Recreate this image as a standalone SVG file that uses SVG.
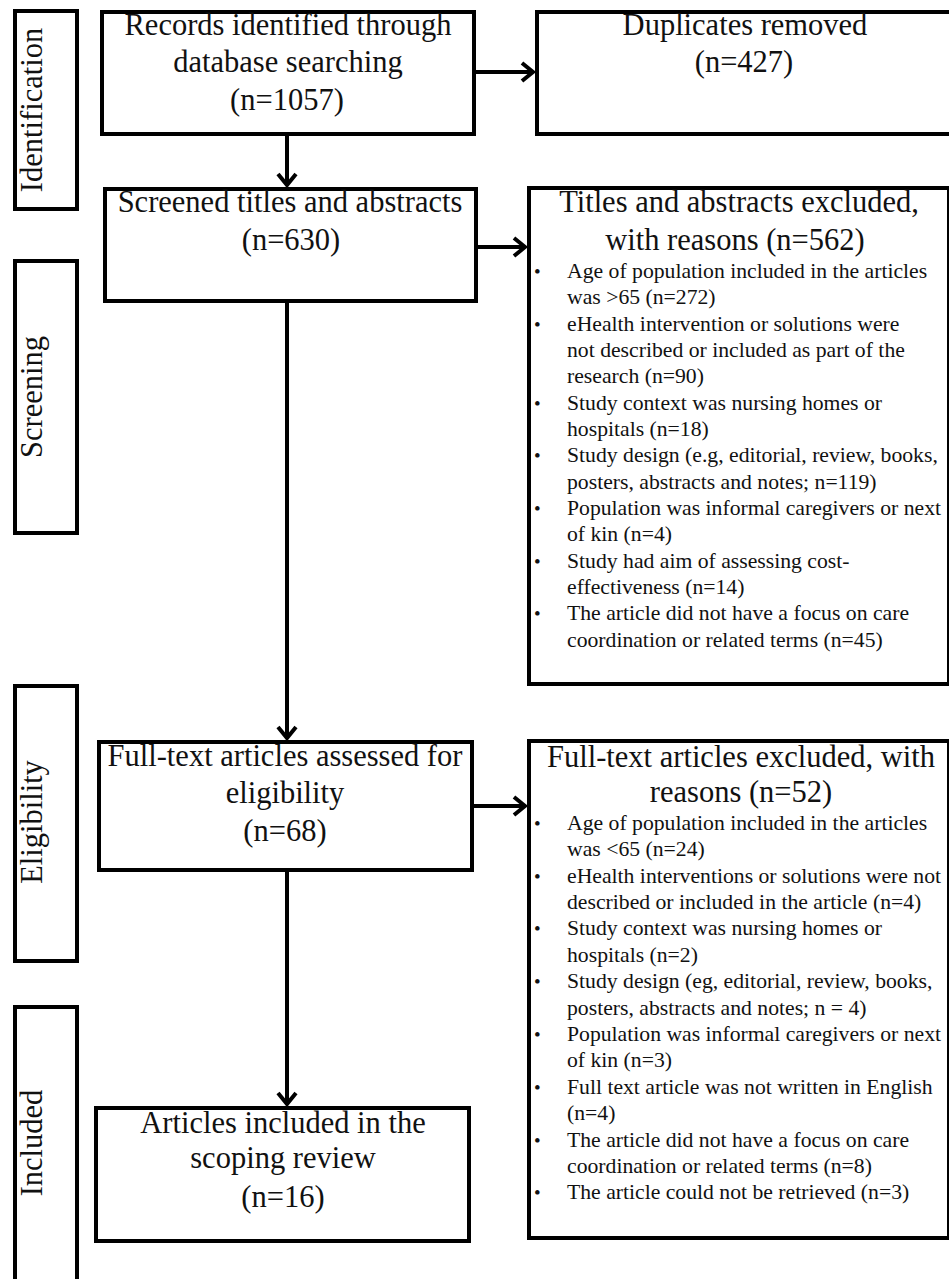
<svg xmlns="http://www.w3.org/2000/svg" width="949" height="1279" viewBox="0 0 949 1279">
<style>
  .box { fill: #ffffff; stroke: #000000; stroke-width: 4; }
  .t { font-family: "Liberation Serif", "Times New Roman", serif; font-size: 30.5px; fill: #111111; text-anchor: middle; }
  .side { font-family: "Liberation Serif", "Times New Roman", serif; font-size: 30.5px; fill: #111111; text-anchor: middle; }
  .b { font-family: "Liberation Serif", "Times New Roman", serif; font-size: 21.7px; fill: #111111; }
  .dot { font-family: "Liberation Serif", "Times New Roman", serif; font-size: 19px; fill: #111111; }
  .conn { fill: none; stroke: #000000; stroke-width: 4; }
</style>
<defs>
  <marker id="arr" markerUnits="userSpaceOnUse" markerWidth="30" markerHeight="30" viewBox="-15 -15 30 30" refX="0" refY="0" orient="auto" overflow="visible">
    <path d="M-11,-9 L0,0 L-11,9" fill="none" stroke="#000000" stroke-width="4"/>
  </marker>
</defs>
<rect x="0" y="0" width="949" height="1279" fill="#ffffff"/>

<g id="stage-identification">
  <rect class="box" x="15" y="11" width="62" height="198"/>
  <text class="side" transform="translate(42,110) rotate(-90)">Identification</text>
</g>
<g id="stage-screening">
  <rect class="box" x="15" y="261" width="62" height="272"/>
  <text class="side" transform="translate(42,397) rotate(-90)">Screening</text>
</g>
<g id="stage-eligibility">
  <rect class="box" x="15" y="686" width="62" height="275"/>
  <text class="side" transform="translate(42,822) rotate(-90)">Eligibility</text>
</g>
<g id="stage-included">
  <rect class="box" x="15" y="1007" width="62" height="300"/>
  <text class="side" transform="translate(42,1143) rotate(-90)">Included</text>
</g>

<g id="records">
  <rect class="box" x="102" y="12" width="372" height="122"/>
  <text class="t" x="288" y="35">Records identified through</text>
  <text class="t" x="288" y="72">database searching</text>
  <text class="t" x="287" y="110">(n=1057)</text>
</g>
<g id="duplicates">
  <rect class="box" x="537" y="12" width="420" height="122"/>
  <text class="t" x="745" y="35">Duplicates removed</text>
  <text class="t" x="744" y="72">(n=427)</text>
</g>
<g id="screened">
  <rect class="box" x="105" y="189" width="371" height="112"/>
  <text class="t" x="290" y="212">Screened titles and abstracts</text>
  <text class="t" x="291" y="250">(n=630)</text>
</g>
<g id="titles-excluded">
  <rect class="box" x="529" y="188" width="420" height="496"/>
  <text class="t" x="739" y="212">Titles and abstracts excluded,</text>
  <text class="t" x="735" y="250">with reasons (n=562)</text>
  <g class="dot">
    <text x="534" y="278">•</text>
    <text x="534" y="331">•</text>
    <text x="534" y="410">•</text>
    <text x="534" y="462">•</text>
    <text x="534" y="515">•</text>
    <text x="534" y="568">•</text>
    <text x="534" y="620">•</text>
  </g>
  <g class="b">
    <text x="567" y="278">Age of population included in the articles</text>
    <text x="567" y="304">was &gt;65 (n=272)</text>
    <text x="567" y="331">eHealth intervention or solutions were</text>
    <text x="567" y="357">not described or included as part of the</text>
    <text x="567" y="383">research (n=90)</text>
    <text x="567" y="410">Study context was nursing homes or</text>
    <text x="567" y="436">hospitals (n=18)</text>
    <text x="567" y="462">Study design (e.g, editorial, review, books,</text>
    <text x="567" y="489">posters, abstracts and notes; n=119)</text>
    <text x="567" y="515">Population was informal caregivers or next</text>
    <text x="567" y="541">of kin (n=4)</text>
    <text x="567" y="568">Study had aim of assessing cost-</text>
    <text x="567" y="594">effectiveness (n=14)</text>
    <text x="567" y="620">The article did not have a focus on care</text>
    <text x="567" y="647">coordination or related terms (n=45)</text>
  </g>
</g>
<g id="fulltext-assessed">
  <rect class="box" x="99" y="742" width="373" height="128"/>
  <text class="t" x="285" y="766">Full-text articles assessed for</text>
  <text class="t" x="285" y="803">eligibility</text>
  <text class="t" x="285" y="841">(n=68)</text>
</g>
<g id="fulltext-excluded">
  <rect class="box" x="529" y="741" width="420" height="497"/>
  <text class="t" x="741" y="767">Full-text articles excluded, with</text>
  <text class="t" x="741" y="802">reasons (n=52)</text>
  <g class="dot">
    <text x="534" y="830">•</text>
    <text x="534" y="883">•</text>
    <text x="534" y="935">•</text>
    <text x="534" y="988">•</text>
    <text x="534" y="1041">•</text>
    <text x="534" y="1094">•</text>
    <text x="534" y="1147">•</text>
    <text x="534" y="1199">•</text>
  </g>
  <g class="b">
    <text x="567" y="830">Age of population included in the articles</text>
    <text x="567" y="856">was &lt;65 (n=24)</text>
    <text x="567" y="883">eHealth interventions or solutions were not</text>
    <text x="567" y="909">described or included in the article (n=4)</text>
    <text x="567" y="935">Study context was nursing homes or</text>
    <text x="567" y="962">hospitals (n=2)</text>
    <text x="567" y="988">Study design (eg, editorial, review, books,</text>
    <text x="567" y="1015">posters, abstracts and notes; n = 4)</text>
    <text x="567" y="1041">Population was informal caregivers or next</text>
    <text x="567" y="1067">of kin (n=3)</text>
    <text x="567" y="1094">Full text article was not written in English</text>
    <text x="567" y="1120">(n=4)</text>
    <text x="567" y="1147">The article did not have a focus on care</text>
    <text x="567" y="1173">coordination or related terms (n=8)</text>
    <text x="567" y="1199">The article could not be retrieved (n=3)</text>
  </g>
</g>
<g id="included-articles">
  <rect class="box" x="96" y="1108" width="373" height="133"/>
  <text class="t" x="283" y="1133">Articles included in the</text>
  <text class="t" x="283" y="1168">scoping review</text>
  <text class="t" x="283" y="1207">(n=16)</text>
</g>

<g id="connectors">
  <line class="conn" x1="476" y1="72" x2="533" y2="72" marker-end="url(#arr)"/>
  <line class="conn" x1="287" y1="136" x2="287" y2="185" marker-end="url(#arr)"/>
  <line class="conn" x1="478" y1="247" x2="525" y2="247" marker-end="url(#arr)"/>
  <line class="conn" x1="287" y1="303" x2="287" y2="738" marker-end="url(#arr)"/>
  <line class="conn" x1="474" y1="806" x2="525" y2="806" marker-end="url(#arr)"/>
  <line class="conn" x1="287" y1="872" x2="287" y2="1104" marker-end="url(#arr)"/>
</g>
</svg>
